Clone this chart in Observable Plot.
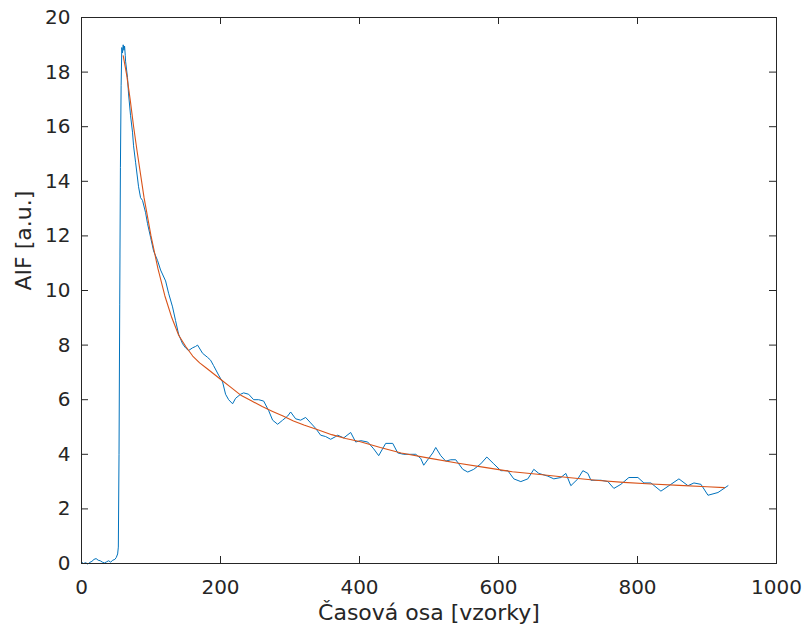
<!DOCTYPE html>
<html>
<head>
<meta charset="utf-8">
<script src="https://cdn.jsdelivr.net/npm/d3@7"></script>
<script src="https://cdn.jsdelivr.net/npm/@observablehq/plot@0.6"></script>
<style>
  html, body { margin: 0; padding: 0; background: #fff; }
  #chart { width: 805px; height: 630px; }
</style>
</head>
<body>
<div id="chart"></div>
<script>
// Measured AIF signal (samples)
const sampleX = [0,3,6,9,12,15,18,21,24,27,30,33,36,39,42,45,48,50,52,53,54,55,56,57,58,59,60,61,62,63,
  63.4,66.2,67.7,70.6,73.4,74.9,77.8,82.1,85,87.8,92.2,95,99.4,103.7,109.4,113.8,121,125.3,131,135.3,139.7,
  145.4,149.7,154,159.8,164.1,167,174.2,181.4,185.7,190,197.3,203,207.3,211.7,217.4,221.7,228.9,233.3,240.5,
  247.7,254.9,262.1,269.3,275,282.2,289.4,296.6,300.9,308.1,315.3,322.5,329.7,336.9,344.1,351.3,358.5,365.7,
  368.6,377.3,387.3,394.5,401.7,411.8,420.4,427.6,437.7,447.8,455,463.6,473.7,480.9,488.1,492.4,499.6,505.4,
  509.7,516.9,524.1,531.3,538.5,548.6,555.8,564.4,574.5,583.2,593.2,603.3,613.4,622,632.1,642.2,650.8,658,
  671,679.6,689.7,696.9,704.1,714.2,721.4,728.6,733,747.3,757.4,766,776.1,787.6,800.6,809.2,819.3,833.7,
  848.1,859.6,872.6,881.2,891.3,901.4,915.8,930.2];
const sampleY = [0.05,0.0,0.03,-0.02,0.04,0.08,0.15,0.18,0.12,0.1,0.05,0.02,0.06,0.1,0.05,0.12,0.15,0.22,0.35,0.6,4,9.5,14.5,17.5,18.9,18.7,19.0,18.8,18.95,18.6,
  18.4,17.8,17.2,16.4,15.8,15.3,14.7,13.8,13.4,13.3,12.85,12.45,11.95,11.45,11.1,10.75,10.35,9.9,9.4,8.9,8.4,
  8.05,7.9,7.8,7.9,7.95,8.0,7.7,7.55,7.45,7.25,6.9,6.65,6.2,6.0,5.85,6.05,6.2,6.25,6.2,
  6.0,6.0,5.95,5.6,5.25,5.1,5.25,5.4,5.55,5.3,5.25,5.35,5.15,4.95,4.7,4.65,4.55,4.65,
  4.7,4.6,4.8,4.45,4.5,4.45,4.2,3.95,4.4,4.4,4.05,4.0,4.0,4.0,3.85,3.6,3.85,4.05,
  4.25,3.95,3.75,3.8,3.8,3.45,3.35,3.45,3.65,3.9,3.65,3.4,3.4,3.1,3.0,3.1,3.45,3.3,
  3.2,3.1,3.15,3.3,2.85,3.1,3.4,3.3,3.05,3.05,3.0,2.75,2.9,3.15,3.15,2.95,2.95,2.65,
  2.9,3.1,2.85,2.95,2.9,2.5,2.6,2.85];

// Fitted model curve
const fitX = [60,65,70,75,80,90,100,110,120,130,140,150,160,170,180,190,200,215,230,245,260,275,290,305,320,340,360,380,400,430,460,500,540,580,620,660,700,740,780,820,860,900,925];
const fitY = [18.6,17.9,17.0,16.0,15.1,13.4,12.0,10.8,9.8,9.0,8.35,7.95,7.6,7.35,7.15,6.95,6.75,6.45,6.15,5.95,5.75,5.57,5.4,5.22,5.07,4.9,4.72,4.58,4.47,4.25,4.05,3.86,3.68,3.52,3.36,3.26,3.15,3.05,2.97,2.91,2.86,2.81,2.78];

const xTicks = [0,200,400,600,800,1000];
const yTicks = [0,2,4,6,8,10,12,14,16,18,20];
const xLabel = "Časová osa [vzorky]";
const yLabel = "AIF [a.u.]";

const sampleData = sampleX.map((x, i) => ({x, y: sampleY[i]}));
const fitData = fitX.map((x, i) => ({x, y: fitY[i]}));

const W = 805, H = 630;
const mL = 81, mR = 29, mT = 17, mB = 67;
const innerW = W - mL - mR, innerH = H - mT - mB;
const tick = 7;
const ink = "#262626";

const chart = Plot.plot({
  width: W,
  height: H,
  marginLeft: mL,
  marginRight: mR,
  marginTop: mT,
  marginBottom: mB,
  style: {fontFamily: "DejaVu Sans", fontSize: "20px", color: ink, background: "#fff"},
  x: {domain: [0, 1000], axis: null},
  y: {domain: [0, 20], axis: null},
  marks: [
    Plot.line(sampleData, {x: "x", y: "y", stroke: "#0072BD", strokeWidth: 1}),
    Plot.line(fitData, {x: "x", y: "y", stroke: "#D95319", strokeWidth: 1.1}),
    Plot.frame({stroke: ink, strokeWidth: 1}),
    Plot.tickX(xTicks, {x: d => d, insetTop: innerH - tick, stroke: ink}),
    Plot.tickX(xTicks, {x: d => d, insetBottom: innerH - tick, stroke: ink}),
    Plot.tickY(yTicks, {y: d => d, insetRight: innerW - tick, stroke: ink}),
    Plot.tickY(yTicks, {y: d => d, insetLeft: innerW - tick, stroke: ink}),
    Plot.axisX(xTicks, {anchor: "bottom", tickSize: 0, tickPadding: 16, fontSize: 20, fill: ink, label: null, tickFormat: d => String(d)}),
    Plot.axisY(yTicks, {anchor: "left", tickSize: 0, tickPadding: 11, fontSize: 20, fill: ink, label: null, tickFormat: d => String(d)}),
    Plot.text([xLabel], {frameAnchor: "bottom", dy: 49, fontSize: 22, fill: ink, lineAnchor: "middle", text: d => d}),
    Plot.text([yLabel], {frameAnchor: "left", dx: -58, rotate: -90, fontSize: 22, fill: ink, lineAnchor: "middle", text: d => d})
  ]
});
document.getElementById("chart").appendChild(chart);
</script>
</body>
</html>
